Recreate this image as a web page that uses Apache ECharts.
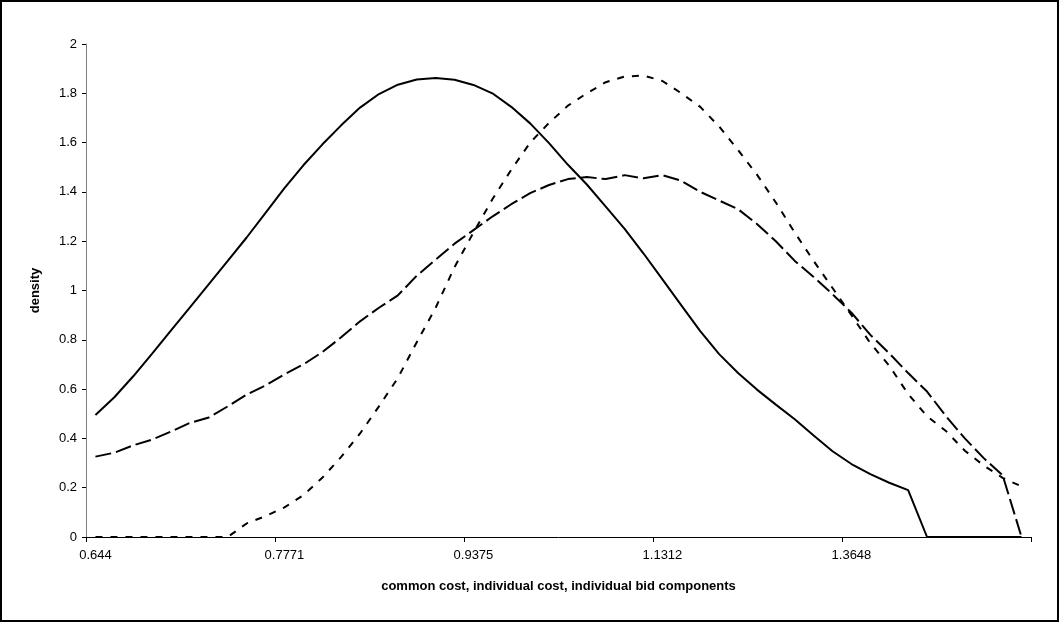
<!DOCTYPE html>
<html>
<head>
<meta charset="utf-8">
<script src="https://cdn.jsdelivr.net/npm/echarts@6/dist/echarts.min.js"></script>
<style>
html,body{margin:0;padding:0;background:#fff;}
#main{width:1060px;height:623px;}
</style>
</head>
<body>
<div id="main"></div>
<script>
const categories = ['0.644','0.6562','0.6686','0.6813','0.6942','0.7074','0.7208','0.7345','0.7484','0.7626',
'0.7771','0.7918','0.8068','0.8221','0.8376','0.8535','0.8697','0.8862','0.903','0.9201',
'0.9375','0.9553','0.9734','0.9918','1.0106','1.0298','1.0493','1.0692','1.0895','1.1101',
'1.1312','1.1526','1.1745','1.1968','1.2194','1.2426','1.2661','1.2901','1.3146','1.3395',
'1.3648','1.3907','1.417','1.4439','1.4713','1.4992','1.5276','1.5565','1.586','1.6161'];

const commonCost = [0.495,0.567,0.652,0.744,0.838,0.932,1.026,1.12,1.215,1.315,
1.415,1.508,1.592,1.67,1.742,1.797,1.835,1.856,1.862,1.855,
1.834,1.80,1.745,1.678,1.598,1.51,1.43,1.34,1.25,1.15,
1.045,0.94,0.835,0.742,0.665,0.598,0.537,0.478,0.412,0.348,
0.296,0.255,0.22,0.19,0,0,0,0,0,0];

const individualCost = [0.326,0.342,0.372,0.395,0.428,0.463,0.485,0.53,0.578,0.615,
0.66,0.70,0.75,0.81,0.875,0.93,0.98,1.06,1.125,1.19,
1.245,1.30,1.35,1.395,1.428,1.452,1.46,1.452,1.468,1.455,
1.468,1.445,1.40,1.365,1.33,1.27,1.20,1.12,1.055,0.985,
0.91,0.82,0.745,0.665,0.59,0.49,0.40,0.32,0.25,0];

const individualBid = [0,0,0,0,0,0,0,0,0.055,0.085,
0.12,0.17,0.24,0.325,0.42,0.53,0.645,0.79,0.93,1.095,
1.235,1.37,1.49,1.60,1.68,1.75,1.80,1.845,1.868,1.872,
1.85,1.80,1.745,1.665,1.57,1.47,1.357,1.235,1.12,1.01,
0.90,0.786,0.695,0.58,0.49,0.43,0.35,0.29,0.24,0.205];

const yTicks = {min: 0, max: 2, interval: 0.2};

const chart = echarts.init(document.getElementById('main'), null, {renderer: 'canvas'});
const font = '"Liberation Sans", Arial, sans-serif';
chart.setOption({
  animation: false,
  backgroundColor: '#fff',
  textStyle: {fontFamily: font},
  graphic: [{
    type: 'rect',
    shape: {x: 1, y: 1, width: 1057, height: 620},
    style: {fill: 'none', stroke: '#000', lineWidth: 2},
    silent: true
  }],
  grid: {left: 86, right: 29, top: 44, bottom: 86, containLabel: false},
  xAxis: {
    type: 'category',
    data: categories,
    boundaryGap: true,
    name: 'common cost, individual cost, individual bid components',
    nameLocation: 'middle',
    nameGap: 43,
    nameTextStyle: {fontFamily: font, fontSize: 13, fontWeight: 'bold', color: '#000'},
    axisLine: {show: true, lineStyle: {color: '#000', width: 1}},
    axisTick: {show: true, interval: 9, length: 5, inside: false, lineStyle: {color: '#000'}},
    axisLabel: {interval: 9, fontSize: 13, color: '#000', margin: 12, fontFamily: font},
    splitLine: {show: false}
  },
  yAxis: {
    type: 'value',
    min: yTicks.min, max: yTicks.max, interval: yTicks.interval,
    name: 'density',
    nameLocation: 'middle',
    nameRotate: 90,
    nameGap: 44,
    nameTextStyle: {fontFamily: font, fontSize: 13, fontWeight: 'bold', color: '#000'},
    axisLine: {show: true, lineStyle: {color: '#808080', width: 1}},
    axisTick: {show: true, length: 4, inside: false, lineStyle: {color: '#000'}},
    axisLabel: {fontSize: 13, color: '#000', margin: 9, fontFamily: font},
    splitLine: {show: false}
  },
  series: [
    {type: 'line', data: commonCost, symbol: 'none', smooth: false,
     lineStyle: {color: '#000', width: 2, type: 'solid'}},
    {type: 'line', data: individualCost, symbol: 'none', smooth: false,
     lineStyle: {color: '#000', width: 2, type: [16, 5]}},
    {type: 'line', data: individualBid, symbol: 'none', smooth: false,
     lineStyle: {color: '#000', width: 2, type: [7, 8]}}
  ]
});
</script>
</body>
</html>
